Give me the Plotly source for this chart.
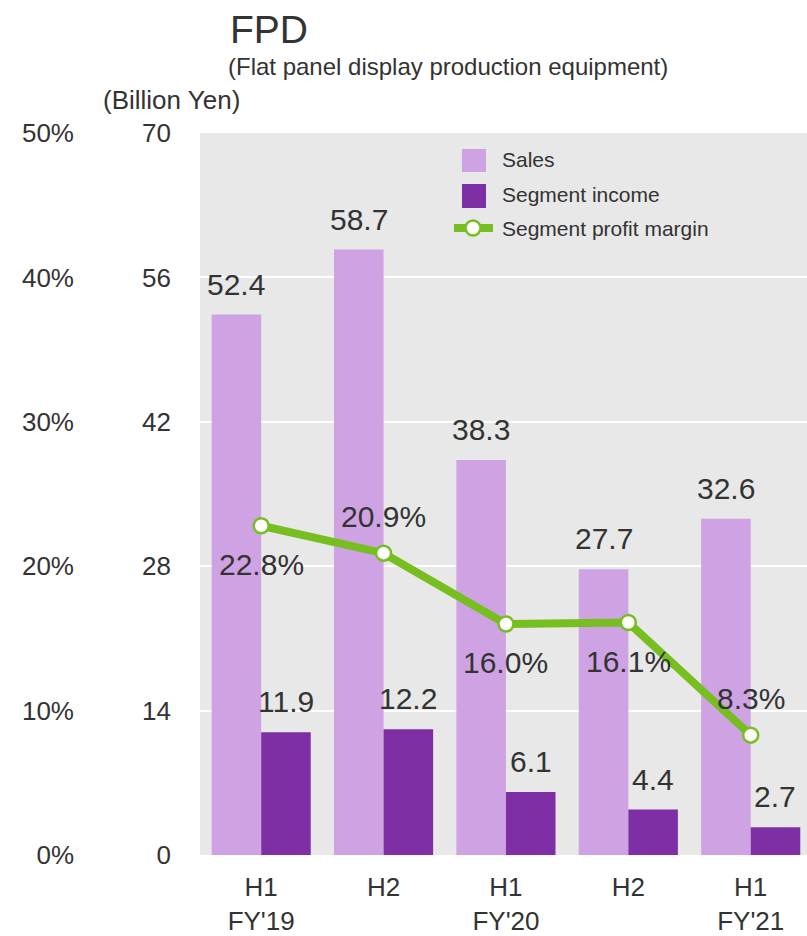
import plotly.graph_objects as go

# ---------------- data ----------------
periods = ["H1<br>FY'19", "H2", "H1<br>FY'20", "H2", "H1<br>FY'21"]
sales = [52.4, 58.7, 38.3, 27.7, 32.6]
income = [11.9, 12.2, 6.1, 4.4, 2.7]
margin = [22.8, 20.9, 16.0, 16.1, 8.3]
margin_label_side = ["below", "above", "below", "below", "above"]
yen_ticks = [0, 14, 28, 42, 56, 70]
pct_ticks = [0, 10, 20, 30, 40, 50]
pct_tick_labels = ["0%", "10%", "20%", "30%", "40%", "50%"]
legend_names = ["Sales", "Segment income", "Segment profit margin"]

xs = list(range(len(periods)))

# ---------------- style ----------------
W, H = 807, 936
ML, MR, MT, MB = 0, 0, 133, 81
PLOT_LEFT = 200
SALES_C = "#CFA3E3"
INC_C = "#7E2FA6"
GREEN = "#77BE20"
TXT = "#333333"
FONT = "Liberation Sans, Arial, sans-serif"
BARGAP = 0.19


def px2x(px):
    return (px - ML) / (W - ML - MR)


def py2y(py):
    return (H - MB - py) / (H - MT - MB)


fig = go.Figure()
fig.add_trace(go.Bar(x=xs, y=sales, name=legend_names[0], marker=dict(color=SALES_C, line=dict(width=0)),
                     yaxis="y", showlegend=False))
fig.add_trace(go.Bar(x=xs, y=income, name=legend_names[1], marker=dict(color=INC_C, line=dict(width=0)),
                     yaxis="y", showlegend=False))
fig.add_trace(go.Scatter(x=xs, y=margin, name=legend_names[2], yaxis="y2", mode="lines+markers",
                         line=dict(color=GREEN, width=8),
                         marker=dict(size=15, color="white", line=dict(color=GREEN, width=2.5)),
                         showlegend=False, cliponaxis=False))

# bar data labels
bar_w = (1 - BARGAP) / 2
annotations = []
for i, v in enumerate(sales):
    annotations.append(dict(x=i - bar_w / 2, y=v, xref="x", yref="y", text=f"{v:.1f}", showarrow=False,
                            yanchor="bottom", yshift=12, font=dict(size=30, color=TXT, family=FONT)))
for i, v in enumerate(income):
    annotations.append(dict(x=i + bar_w / 2, y=v, xref="x", yref="y", text=f"{v:.1f}", showarrow=False,
                            yanchor="bottom", yshift=12, font=dict(size=30, color=TXT, family=FONT)))
for i, (v, side) in enumerate(zip(margin, margin_label_side)):
    annotations.append(dict(x=i, y=v, xref="x", yref="y2", text=f"{v:.1f}%", showarrow=False,
                            yanchor="middle", yshift=(37 if side == "above" else -39),
                            font=dict(size=30, color=TXT, family=FONT)))

# titles
annotations.append(dict(x=px2x(228), y=py2y(30), xref="paper", yref="paper", text="FPD", showarrow=False,
                        xanchor="left", yanchor="middle", font=dict(size=39, color=TXT, family=FONT)))
annotations.append(dict(x=px2x(226), y=py2y(67), xref="paper", yref="paper",
                        text="(Flat panel display production equipment)", showarrow=False,
                        xanchor="left", yanchor="middle", font=dict(size=24, color=TXT, family=FONT)))
annotations.append(dict(x=px2x(101), y=py2y(100), xref="paper", yref="paper", text="(Billion Yen)",
                        showarrow=False, xanchor="left", yanchor="middle",
                        font=dict(size=26, color=TXT, family=FONT)))

# custom legend
shapes = []
shapes.append(dict(type="rect", xref="paper", yref="paper", x0=px2x(462), x1=px2x(486),
                   y0=py2y(172), y1=py2y(149), fillcolor=SALES_C, line=dict(width=0)))
shapes.append(dict(type="rect", xref="paper", yref="paper", x0=px2x(462), x1=px2x(486),
                   y0=py2y(208), y1=py2y(184), fillcolor=INC_C, line=dict(width=0)))
shapes.append(dict(type="line", xref="paper", yref="paper", x0=px2x(454), x1=px2x(493),
                   y0=py2y(228), y1=py2y(228), line=dict(color=GREEN, width=8)))
shapes.append(dict(type="circle", xref="paper", yref="paper", x0=px2x(465.5), x1=px2x(480.5),
                   y0=py2y(235.5), y1=py2y(220.5), fillcolor="white", line=dict(color=GREEN, width=2.5)))
for name, py in zip(legend_names, [160, 195, 229]):
    annotations.append(dict(x=px2x(500), y=py2y(py), xref="paper", yref="paper", text=name,
                            showarrow=False, xanchor="left", yanchor="middle",
                            font=dict(size=21, color=TXT, family=FONT)))

fig.update_layout(
    width=W, height=H,
    margin=dict(l=ML, r=MR, t=MT, b=MB, pad=0, autoexpand=False),
    paper_bgcolor="white",
    plot_bgcolor="#E8E8E8",
    barmode="group",
    bargap=BARGAP,
    bargroupgap=0,
    showlegend=False,
    font=dict(family=FONT, color=TXT),
    xaxis=dict(domain=[px2x(PLOT_LEFT), 1], range=[-0.5, len(xs) - 0.54], tickvals=xs, ticktext=periods,
               tickfont=dict(size=26, color=TXT, family=FONT), showgrid=False, zeroline=False,
               showline=False, ticks="", ticklabelstandoff=14, fixedrange=True, automargin=False),
    yaxis=dict(range=[0, 70], tickvals=yen_ticks, showgrid=True, gridcolor="white", gridwidth=2,
               zeroline=False, showline=False, ticks="", ticklabelstandoff=28, automargin=False,
               tickfont=dict(size=26, color=TXT, family=FONT)),
    yaxis2=dict(range=[0, 50], tickvals=pct_ticks, ticktext=pct_tick_labels, overlaying="y", anchor="free",
                position=px2x(74), side="left", showgrid=False, zeroline=False, showline=False, ticks="",
                automargin=False, tickfont=dict(size=26, color=TXT, family=FONT)),
    annotations=annotations,
    shapes=shapes,
)

fig.write_html("out.html")
